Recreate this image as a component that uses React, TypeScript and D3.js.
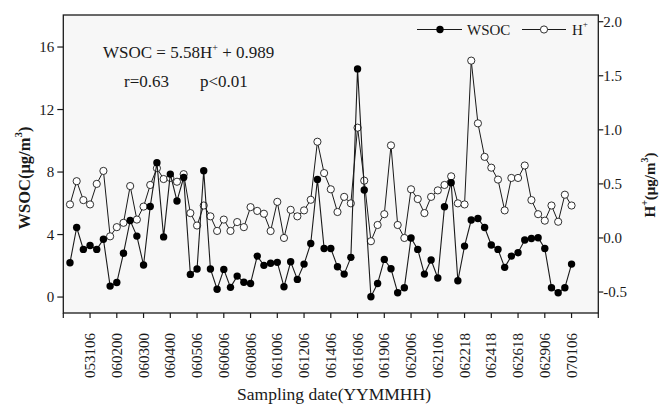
// WSOC vs H+ time series, dual y axis
import * as d3 from 'd3';

// ── Data (76 samples) ────────────────────────────────
const TICK_LABELS = [
  '053106', '060200', '060300', '060400', '060506', '060606', '060806', '061006', '061206', '061406',
  '061606', '061906', '062006', '062106', '062218', '062418', '062618', '062906', '070106',
];

const WSOC = [
  2.2, 4.45, 3.05, 3.3, 3.05, 3.7, 0.7, 0.93, 2.8, 4.9,
  3.9, 2.05, 5.8, 8.6, 3.85, 7.87, 6.15, 7.65, 1.45, 1.8,
  8.08, 1.8, 0.5, 1.77, 0.62, 1.34, 0.95, 0.87, 2.62, 2.03,
  2.16, 2.22, 0.66, 2.26, 1.13, 2.11, 3.43, 7.53, 3.11, 3.11,
  1.94, 1.47, 2.54, 14.6, 6.85, 0.02, 0.87, 2.41, 1.81, 0.28,
  0.6, 3.78, 3.05, 1.47, 2.37, 1.22, 5.78, 7.32, 1.04, 3.26,
  4.93, 5.03, 4.45, 3.33, 3.05, 1.9, 2.62, 2.84, 3.65, 3.75,
  3.8, 3.11, 0.6, 0.28, 0.6, 2.11,
];

const HPLUS = [
  0.31, 0.525, 0.35, 0.31, 0.5, 0.62, 0.015, 0.1, 0.14, 0.48,
  0.17, 0.29, 0.49, 0.645, 0.545, 0.555, 0.52, 0.59, 0.23, 0.115,
  0.3, 0.2, 0.065, 0.17, 0.065, 0.147, 0.1, 0.285, 0.25, 0.224,
  0.064, 0.334, 0.0, 0.26, 0.2, 0.255, 0.353, 0.89, 0.6, 0.45,
  0.24, 0.38, 0.32, 1.02, 0.53, -0.03, 0.12, 0.22, 0.856, 0.12,
  0.0, 0.45, 0.36, 0.23, 0.38, 0.44, 0.49, 0.57, 0.32, 0.31,
  1.64, 1.06, 0.75, 0.65, 0.54, 0.255, 0.555, 0.555, 0.67, 0.35,
  0.22, 0.16, 0.3, 0.15, 0.4, 0.3,
];

const LEFT_TICKS = [0, 4, 8, 12, 16];
const RIGHT_TICKS = [-0.5, 0.0, 0.5, 1.0, 1.5, 2.0];

const W = 661, H = 406;
const M = { left: 63.3, right: 598.3, top: 15, bottom: 313 };
const FONT = '"Liberation Serif", "Times New Roman", serif';
const INK = '#1a1a1a';

export default function App() {
  const x = d3.scaleLinear().domain([-1, 79]).range([M.left, M.right]);
  const yL = d3.scaleLinear().domain([-1.02, 18.05]).range([M.bottom, M.top]);
  const yR = d3.scaleLinear().domain([-0.694, 2.062]).range([M.bottom, M.top]);

  const lineL = d3.line<number>().x((_, i) => x(i)).y(d => yL(d));
  const lineR = d3.line<number>().x((_, i) => x(i)).y(d => yR(d));

  // ticks every 4 samples, from -1 up to 79; labels only on the inner ones
  const xTicks = d3.range(0, 21).map(i => -1 + 4 * i);

  return (
    <div style={{ position: 'fixed', left: 0, top: 0, width: W, height: H, background: '#fff' }}>
      <svg width={W} height={H} style={{ display: 'block', fontFamily: FONT }}>
        <rect x={M.left} y={M.top} width={M.right - M.left} height={M.bottom - M.top} fill="#f7f7f7" />

        {/* H+ series */}
        <path d={lineR(HPLUS) ?? ''} fill="none" stroke={INK} strokeWidth={1} />
        {HPLUS.map((d, i) => (
          <circle key={'h' + i} cx={x(i)} cy={yR(d)} r={3.6} fill="#fff" stroke={INK} strokeWidth={0.9} />
        ))}

        {/* WSOC series */}
        <path d={lineL(WSOC) ?? ''} fill="none" stroke={INK} strokeWidth={1.1} />
        {WSOC.map((d, i) => (
          <circle key={'w' + i} cx={x(i)} cy={yL(d)} r={3.7} fill="#000" />
        ))}

        {/* frame */}
        <rect x={M.left} y={M.top} width={M.right - M.left} height={M.bottom - M.top}
          fill="none" stroke={INK} strokeWidth={1.3} />

        {/* left axis */}
        {LEFT_TICKS.map(t => (
          <g key={'l' + t}>
            <line x1={M.left - 6} x2={M.left} y1={yL(t)} y2={yL(t)} stroke={INK} strokeWidth={1.2} />
            <text x={M.left - 9} y={yL(t)} textAnchor="end" dominantBaseline="central" fontSize={15} fill={INK}>{t}</text>
          </g>
        ))}
        <text transform={`translate(24,${178}) rotate(-90)`} textAnchor="middle" dominantBaseline="central"
          fontSize={16.5} fontWeight="bold" fill={INK}>
          WSOC(μg/m<tspan dy={-6} fontSize={11}>3</tspan><tspan dy={6}>)</tspan>
        </text>

        {/* right axis */}
        {RIGHT_TICKS.map(t => (
          <g key={'r' + t}>
            <line x1={M.right} x2={M.right + 5} y1={yR(t)} y2={yR(t)} stroke={INK} strokeWidth={1.2} />
            <text x={M.right + 5} y={yR(t)} dominantBaseline="central" fontSize={15} fill={INK}>{t.toFixed(1)}</text>
          </g>
        ))}
        <text transform={`translate(650,${185}) rotate(-90)`} textAnchor="middle" dominantBaseline="central"
          fontSize={15} fontWeight="bold" fill={INK}>
          H<tspan dy={-6} fontSize={10}>+</tspan><tspan dy={6}>(μg/m</tspan><tspan dy={-6} fontSize={10}>3</tspan><tspan dy={6}>)</tspan>
        </text>

        {/* bottom axis */}
        {xTicks.map((k, i) => (
          <g key={'x' + k}>
            <line x1={x(k)} x2={x(k)} y1={M.bottom} y2={M.bottom + 5} stroke={INK} strokeWidth={1.2} />
            {i >= 1 && i <= TICK_LABELS.length && (
              <text transform={`translate(${x(k)},333) rotate(-90)`} textAnchor="end" dominantBaseline="central"
                fontSize={15} fill={INK}>{TICK_LABELS[i - 1]}</text>
            )}
          </g>
        ))}
        <text x={334} y={400} textAnchor="middle" fontSize={17.5} fill={INK}>Sampling date(YYMMHH)</text>

        {/* regression note */}
        <text x={103} y={58} fontSize={17} fill={INK}>
          WSOC = 5.58H<tspan dy={-7} fontSize={10}>+</tspan><tspan dy={7}> + 0.989</tspan>
        </text>
        <text x={124} y={87} fontSize={17} fill={INK}>r=0.63</text>
        <text x={200} y={87} fontSize={17} fill={INK}>p&lt;0.01</text>

        {/* legend */}
        <line x1={417} x2={462} y1={29.5} y2={29.5} stroke={INK} strokeWidth={1} />
        <circle cx={440} cy={29.5} r={3.7} fill="#000" />
        <text x={467} y={30} dominantBaseline="central" fontSize={15} fill={INK}>WSOC</text>
        <line x1={522} x2={566} y1={29.5} y2={29.5} stroke={INK} strokeWidth={1} />
        <circle cx={544} cy={29.5} r={3.6} fill="#fff" stroke={INK} strokeWidth={0.9} />
        <text x={572} y={30} dominantBaseline="central" fontSize={15} fill={INK}>
          H<tspan dy={-6} fontSize={9}>+</tspan>
        </text>
      </svg>
    </div>
  );
}
